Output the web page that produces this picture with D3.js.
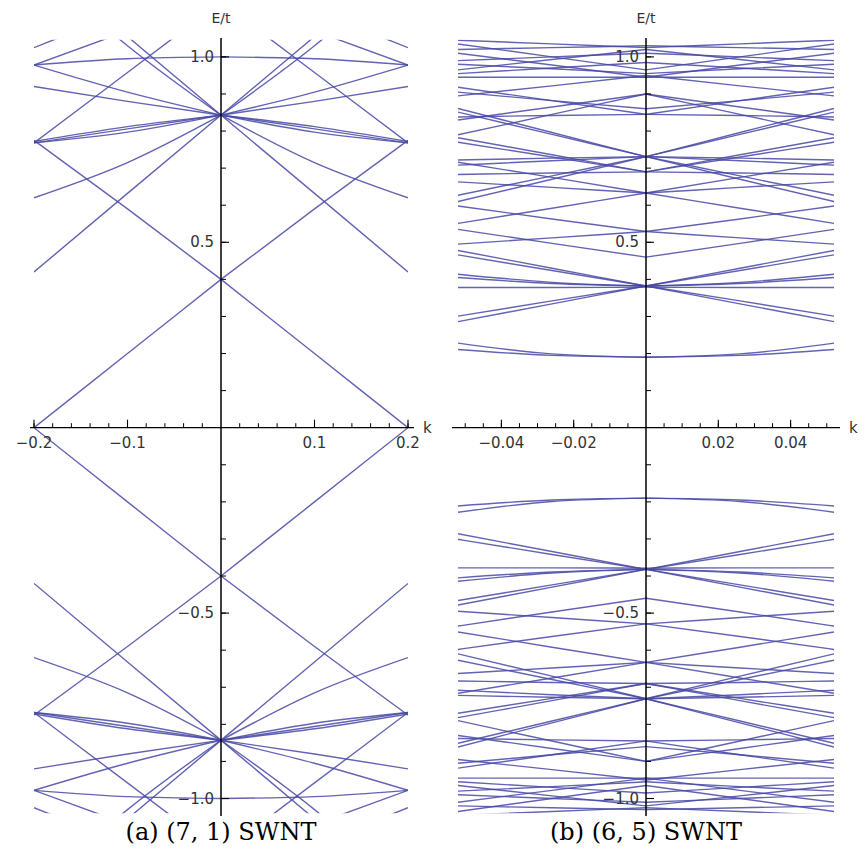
<!DOCTYPE html>
<html>
<head>
<meta charset="utf-8">
<script src="https://cdn.jsdelivr.net/npm/d3@7/dist/d3.min.js"></script>
<style>
  body { margin: 0; background: #fff; }
</style>
</head>
<body>
<div id="chart"></div>
<script>
// Band energies E/t. Each row is one band on the left half
// of the zone (k <= 0), E >= 0. The plots are symmetric in k and in E, so the
// right half and the valence bands are drawn as mirror images of these rows.

// (a) (7,1) SWNT
var kA = [-0.2, -0.1, 0];
var bandsA = [
    [0.0, 0.20, 0.40],
    [0.775, 0.59, 0.40],
    [0.42, 0.632, 0.843],
    [1.27, 1.055, 0.843],
    [0.62, 0.715, 0.843],
    [1.25, 1.03, 0.843],
    [0.768, 0.806, 0.843],
    [0.768, 0.797, 0.843],
    [0.772, 0.812, 0.843],
    [0.92, 0.88, 0.843],
    [0.978, 0.905, 0.843],
    [0.978, 0.995, 1.0],
    [0.768, 0.958, 1.148],
    [0.978, 1.07, 1.16],
    [1.025, 1.125, 1.225]
];
var xTicksA = [-0.2, -0.1, 0.1, 0.2];

// (b) (6,5) SWNT
var kB = [-0.052, -0.026, 0];
var bandsB = [
    [0.228, 0.199, 0.190],
    [0.211, 0.195, 0.190],
    [0.301, 0.342, 0.382],
    [0.286, 0.334, 0.382],
    [0.466, 0.424, 0.382],
    [0.478, 0.430, 0.382],
    [0.414, 0.392, 0.382],
    [0.405, 0.389, 0.382],
    [0.378, 0.378, 0.379],
    [0.535, 0.497, 0.460],
    [0.495, 0.512, 0.529],
    [0.598, 0.563, 0.529],
    [0.551, 0.592, 0.633],
    [0.716, 0.675, 0.633],
    [0.663, 0.648, 0.633],
    [0.627, 0.679, 0.731],
    [0.610, 0.670, 0.731],
    [0.861, 0.796, 0.731],
    [0.851, 0.791, 0.731],
    [0.722, 0.727, 0.731],
    [0.708, 0.720, 0.731],
    [0.683, 0.687, 0.690],
    [0.770, 0.730, 0.690],
    [0.782, 0.736, 0.690],
    [0.790, 0.845, 0.900],
    [0.830, 0.865, 0.900],
    [0.838, 0.842, 0.845],
    [0.918, 0.882, 0.845],
    [0.905, 0.882, 0.860],
    [0.895, 0.922, 0.950],
    [1.045, 1.035, 1.025],
    [1.035, 1.000, 0.965],
    [1.020, 1.025, 1.030],
    [1.010, 0.978, 0.945],
    [0.990, 1.000, 1.010],
    [0.980, 0.968, 0.955],
    [0.965, 0.993, 1.020],
    [0.955, 0.970, 0.985],
    [0.945, 0.945, 0.945]
];
var xTicksB = [-0.04, -0.02, 0.02, 0.04];

var yTicks = [-1.0, -0.5, 0.5, 1.0];

var width = 868, height = 859;
var svg = d3.select("#chart").append("svg")
    .attr("width", width)
    .attr("height", height);

var y = d3.scaleLinear().domain([0, 1]).range([427.7, 56.9]);
var lineColor = "#4848a6";
var labelFont = "DejaVu Sans, sans-serif";

function panel(id, kHalf, bands, kMax, xRange, axisX0, axisX1, xTicks, minorStep, caption) {
    var x = d3.scaleLinear().domain([-kMax, kMax]).range(xRange);
    var g = svg.append("g");

    g.append("clipPath").attr("id", "clip" + id)
        .append("rect")
        .attr("x", xRange[0]).attr("y", y(1.046))
        .attr("width", xRange[1] - xRange[0])
        .attr("height", y(-1.04) - y(1.046));

    // every half band gives four curves: itself, k-mirror, E-mirror, both
    var curves = [];
    bands.forEach(function (b) {
        [1, -1].forEach(function (sk) {
            [1, -1].forEach(function (se) {
                var pts = kHalf.map(function (k, i) { return [sk * k, se * b[i]]; });
                pts.sort(function (p, q) { return p[0] - q[0]; });
                curves.push(pts);
            });
        });
    });

    var line = d3.line()
        .x(function (d) { return x(d[0]); })
        .y(function (d) { return y(d[1]); })
        .curve(d3.curveMonotoneX);

    g.append("g").attr("clip-path", "url(#clip" + id + ")")
        .selectAll("path").data(curves).enter().append("path")
        .attr("d", line)
        .attr("fill", "none")
        .attr("stroke", lineColor)
        .attr("stroke-opacity", 0.85)
        .attr("stroke-width", 1.4);

    var x0 = x(0);

    // horizontal axis with ticks pointing up
    g.append("line")
        .attr("x1", axisX0).attr("x2", axisX1)
        .attr("y1", y(0)).attr("y2", y(0))
        .attr("stroke", "#000").attr("stroke-width", 1.3);

    var minorTicks = d3.range(-kMax, kMax + 1e-9, minorStep)
        .map(function (v) { return Math.round(v / minorStep) * minorStep; })
        .filter(function (v) { return Math.abs(v) > 1e-9 && Math.abs(v) <= kMax + 1e-9; });
    g.selectAll(".xminor").data(minorTicks).enter().append("line")
        .attr("x1", function (d) { return x(d); }).attr("x2", function (d) { return x(d); })
        .attr("y1", y(0)).attr("y2", y(0) - 4.5)
        .attr("stroke", "#000").attr("stroke-width", 1);
    g.selectAll(".xmajor").data(xTicks).enter().append("line")
        .attr("x1", function (d) { return x(d); }).attr("x2", function (d) { return x(d); })
        .attr("y1", y(0)).attr("y2", y(0) - 8)
        .attr("stroke", "#000").attr("stroke-width", 1.1);
    g.selectAll(".xlab").data(xTicks).enter().append("text")
        .attr("x", function (d) { return x(d); })
        .attr("y", y(0) + 20)
        .attr("text-anchor", "middle")
        .style("font-family", labelFont)
        .attr("font-size", 15)
        .attr("fill", "#333")
        .text(function (d) { return d3.format(".2~f")(d).replace("-", "\u2212"); });

    g.append("text").attr("x", axisX1 + 9).attr("y", y(0) + 5)
        .style("font-family", labelFont)
        .attr("font-size", 15).attr("fill", "#333").text("k");

    // vertical axis with ticks pointing right
    g.append("line")
        .attr("x1", x0).attr("x2", x0)
        .attr("y1", 38).attr("y2", 816)
        .attr("stroke", "#000").attr("stroke-width", 1.5);

    var yMinor = d3.range(-10, 11).map(function (v) { return v / 10; })
        .filter(function (v) { return v !== 0; });
    g.selectAll(".yminor").data(yMinor).enter().append("line")
        .attr("x1", x0).attr("x2", x0 + 5)
        .attr("y1", function (d) { return y(d); }).attr("y2", function (d) { return y(d); })
        .attr("stroke", "#000").attr("stroke-width", 1);
    g.selectAll(".ymajor").data(yTicks).enter().append("line")
        .attr("x1", x0).attr("x2", x0 + 8)
        .attr("y1", function (d) { return y(d); }).attr("y2", function (d) { return y(d); })
        .attr("stroke", "#000").attr("stroke-width", 1.1);
    g.selectAll(".ylab").data(yTicks).enter().append("text")
        .attr("x", x0 - 7)
        .attr("y", function (d) { return y(d) + 5; })
        .attr("text-anchor", "end")
        .style("font-family", labelFont)
        .attr("font-size", 15)
        .attr("fill", "#333")
        .text(function (d) { return d3.format(".1f")(d).replace("-", "\u2212"); });

    g.append("text").attr("x", x0).attr("y", 23)
        .attr("text-anchor", "middle")
        .style("font-family", labelFont)
        .attr("font-size", 14).attr("fill", "#333").text("E/t");

    g.append("text").attr("x", x0).attr("y", 840)
        .attr("text-anchor", "middle")
        .style("font-family", "DejaVu Serif, serif")
        .attr("font-size", 24).attr("fill", "#000")
        .text(caption);
}

panel("A", kA, bandsA, 0.2, [34, 408], 30, 414, xTicksA, 0.02, "(a) (7, 1) SWNT");
panel("B", kB, bandsB, 0.052, [458, 834], 452, 840, xTicksB, 0.005, "(b) (6, 5) SWNT");
</script>
</body>
</html>
